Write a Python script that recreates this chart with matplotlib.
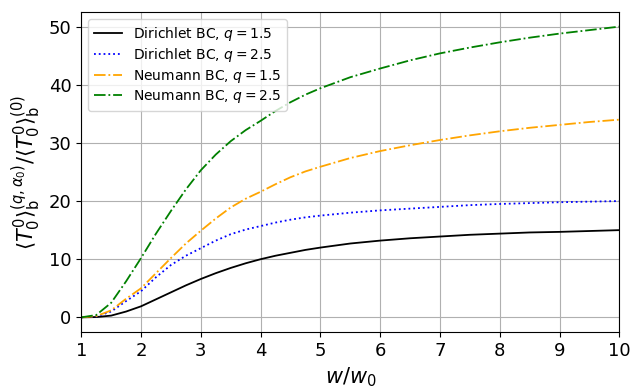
import matplotlib
matplotlib.use("Agg")
import matplotlib.pyplot as plt

# values
w_ratio = [1, 1.25, 1.5, 1.75, 2, 2.25, 2.5, 2.75, 3, 3.25, 3.5, 3.75, 4, 4.25, 4.5, 4.75,
           5, 5.5, 6, 6.5, 7, 7.5, 8, 8.5, 9, 9.5, 10]
dir_q15 = [0, 0.05, 0.3, 1.0, 1.9, 3.1, 4.3, 5.5, 6.6, 7.6, 8.5, 9.3, 10.0, 10.6, 11.1, 11.6,
           12.0, 12.7, 13.2, 13.6, 13.9, 14.2, 14.4, 14.6, 14.7, 14.85, 15.0]
dir_q25 = [0, 0.15, 1.0, 2.8, 4.5, 6.9, 9.0, 10.6, 11.9, 13.2, 14.3, 15.1, 15.7, 16.3, 16.8, 17.2,
           17.5, 18.0, 18.4, 18.7, 19.0, 19.3, 19.5, 19.65, 19.8, 19.9, 20.0]
neu_q15 = [0, 0.2, 1.2, 3.2, 5.0, 7.6, 10.2, 12.7, 14.9, 17.0, 18.9, 20.4, 21.6, 22.9, 24.1, 25.1,
           25.9, 27.4, 28.6, 29.6, 30.5, 31.3, 32.0, 32.6, 33.1, 33.6, 34.0]
neu_q25 = [0, 0.4, 2.5, 6.2, 10.2, 14.4, 18.3, 22.0, 25.3, 28.0, 30.3, 32.2, 33.8, 35.5, 37.0, 38.3,
           39.4, 41.3, 42.8, 44.2, 45.4, 46.4, 47.3, 48.1, 48.8, 49.4, 50.0]

fig = plt.figure(figsize=(6.3, 3.9), dpi=100)
ax = fig.add_axes([0.129, 0.149, 0.854, 0.82])

ax.plot(w_ratio, dir_q15, color='k', linestyle='-', lw=1.3, label=r'Dirichlet BC, $q=1.5$')
ax.plot(w_ratio, dir_q25, color='b', linestyle=':', lw=1.3, label=r'Dirichlet BC, $q=2.5$')
ax.plot(w_ratio, neu_q15, color='orange', linestyle='-.', lw=1.3, label=r'Neumann BC, $q=1.5$')
ax.plot(w_ratio, neu_q25, color='g', linestyle='-.', lw=1.3, label=r'Neumann BC, $q=2.5$')

ax.set_xlim(1, 10)
ax.set_xticks(range(1, 11))
ax.set_yticks([0, 10, 20, 30, 40, 50])
ax.tick_params(labelsize=13)
ax.grid(True)
ax.set_xlabel(r'$w/w_0$', fontsize=15)
ax.set_ylabel(r'$\langle T^0_0\rangle^{(q,\alpha_0)}_{\rm b}/\langle T^0_0\rangle^{(0)}_{\rm b}$', fontsize=15)
ax.legend(loc='upper left', fontsize=10, labelspacing=0.25)

fig.savefig('out.png')
